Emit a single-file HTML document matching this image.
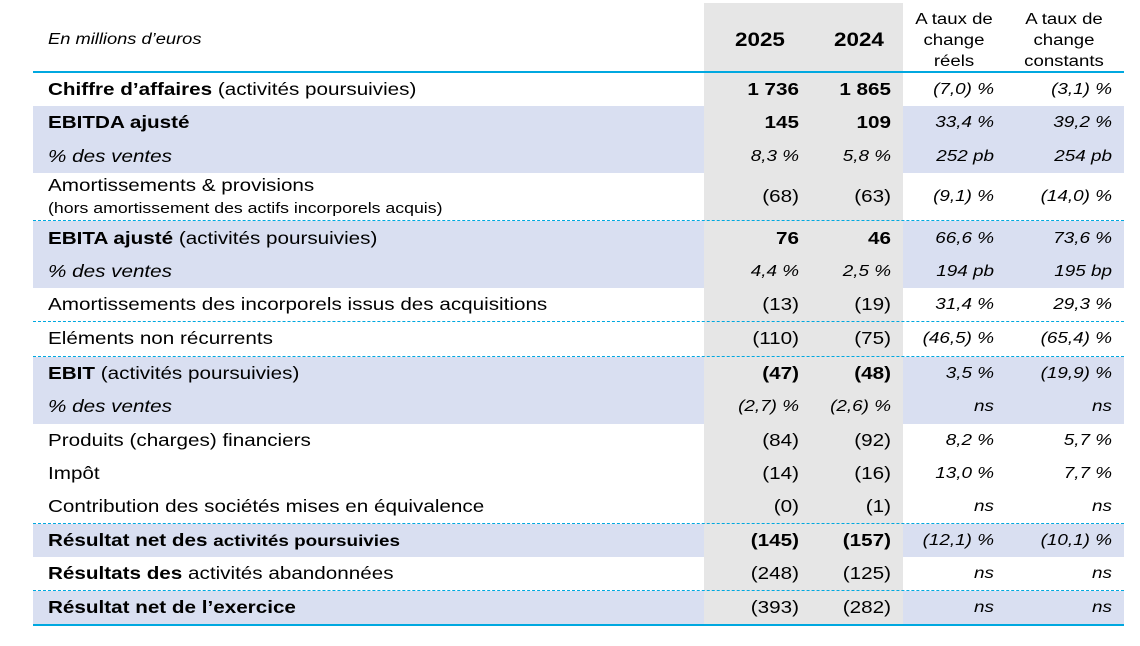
<!DOCTYPE html>
<html><head><meta charset="utf-8"><style>
body{margin:0;width:1140px;height:646px;background:#fff;position:relative;overflow:hidden;font-family:"Liberation Sans",Arial,sans-serif;color:#000}
.a{position:absolute}
.bl{position:absolute;left:33px;width:1091px;background:#d9dff1}
.gr{position:absolute;left:704px;width:199px;top:3px;height:621px;background:#e6e6e6}
.dot{position:absolute;left:33px;width:1091px;height:0;border-top:1px dashed #00a8e0}
.r{position:absolute;left:0;width:1140px;height:33px;line-height:33px;font-size:17.5px}
.r .l{position:absolute;left:48px;white-space:nowrap;transform:scaleX(1.18);transform-origin:left center}
.r .c1,.r .c2,.r .c3,.r .c4{position:absolute;text-align:right;width:120px;white-space:nowrap;transform:scaleX(1.18);transform-origin:right center}
.c1{left:679px}.c2{left:771px}.c3{left:874px}.c4{left:992px}
.i{font-style:italic;font-size:16px}
.b{font-weight:bold}
.sx{transform:scaleX(1.18);transform-origin:left center;white-space:nowrap}
.h{position:absolute;font-size:15.5px;text-align:center;width:110px;line-height:21px;transform:scaleX(1.2)}
</style></head><body>
<div class="bl" style="top:106px;height:67px"></div>
<div class="bl" style="top:221px;height:67px"></div>
<div class="bl" style="top:357px;height:67px"></div>
<div class="bl" style="top:524px;height:33px"></div>
<div class="bl" style="top:591px;height:33px"></div>
<div class="gr"></div>
<div class="a" style="left:33px;top:71px;width:1091px;height:2px;background:#00a8e0"></div>
<div class="a" style="left:33px;top:624px;width:1091px;height:2px;background:#00a8e0"></div>
<div class="dot" style="top:220px"></div>
<div class="dot" style="top:321px"></div>
<div class="dot" style="top:356px"></div>
<div class="dot" style="top:523px"></div>
<div class="dot" style="top:590px"></div>

<div class="a sx" style="left:48px;top:31px;font-size:15.5px;font-style:italic">En millions d’euros</div>
<div class="a b sx" style="left:735px;top:30px;font-size:19px">2025</div>
<div class="a b sx" style="left:834px;top:30px;font-size:19px">2024</div>
<div class="h" style="left:899px;top:9px">A taux de<br>change<br>réels</div>
<div class="h" style="left:1009px;top:9px">A taux de<br>change<br>constants</div>

<div class="r" style="top:73px"><span class="l"><b>Chiffre d’affaires</b> (activités poursuivies)</span><span class="c1 b">1 736</span><span class="c2 b">1 865</span><span class="c3 i">(7,0) %</span><span class="c4 i">(3,1) %</span></div>
<div class="r" style="top:106px"><span class="l b">EBITDA ajusté</span><span class="c1 b">145</span><span class="c2 b">109</span><span class="c3 i">33,4 %</span><span class="c4 i">39,2 %</span></div>
<div class="r" style="top:140px"><span class="l i" style="font-size:17.5px">% des ventes</span><span class="c1 i">8,3 %</span><span class="c2 i">5,8 %</span><span class="c3 i">252 pb</span><span class="c4 i">254 pb</span></div>
<div class="r" style="top:180px"><span class="c1">(68)</span><span class="c2">(63)</span><span class="c3 i">(9,1) %</span><span class="c4 i">(14,0) %</span></div>
<div class="a sx" style="left:48px;top:175px;font-size:17.5px">Amortissements &amp; provisions</div>
<div class="a sx" style="left:48px;top:200px;font-size:15px">(hors amortissement des actifs incorporels acquis)</div>
<div class="r" style="top:222px"><span class="l"><b>EBITA ajusté</b> (activités poursuivies)</span><span class="c1 b">76</span><span class="c2 b">46</span><span class="c3 i">66,6 %</span><span class="c4 i">73,6 %</span></div>
<div class="r" style="top:255px"><span class="l i" style="font-size:17.5px">% des ventes</span><span class="c1 i">4,4 %</span><span class="c2 i">2,5 %</span><span class="c3 i">194 pb</span><span class="c4 i">195 bp</span></div>
<div class="r" style="top:288px"><span class="l">Amortissements des incorporels issus des acquisitions</span><span class="c1">(13)</span><span class="c2">(19)</span><span class="c3 i">31,4 %</span><span class="c4 i">29,3 %</span></div>
<div class="r" style="top:322px"><span class="l">Eléments non récurrents</span><span class="c1">(110)</span><span class="c2">(75)</span><span class="c3 i">(46,5) %</span><span class="c4 i">(65,4) %</span></div>
<div class="r" style="top:357px"><span class="l"><b>EBIT</b> (activités poursuivies)</span><span class="c1 b">(47)</span><span class="c2 b">(48)</span><span class="c3 i">3,5 %</span><span class="c4 i">(19,9) %</span></div>
<div class="r" style="top:390px"><span class="l i" style="font-size:17.5px">% des ventes</span><span class="c1 i">(2,7) %</span><span class="c2 i">(2,6) %</span><span class="c3 i">ns</span><span class="c4 i">ns</span></div>
<div class="r" style="top:424px"><span class="l">Produits (charges) financiers</span><span class="c1">(84)</span><span class="c2">(92)</span><span class="c3 i">8,2 %</span><span class="c4 i">5,7 %</span></div>
<div class="r" style="top:457px"><span class="l">Impôt</span><span class="c1">(14)</span><span class="c2">(16)</span><span class="c3 i">13,0 %</span><span class="c4 i">7,7 %</span></div>
<div class="r" style="top:490px"><span class="l">Contribution des sociétés mises en équivalence</span><span class="c1">(0)</span><span class="c2">(1)</span><span class="c3 i">ns</span><span class="c4 i">ns</span></div>
<div class="r" style="top:524px"><span class="l"><b>Résultat net des</b> <b style="font-size:16px">activités poursuivies</b></span><span class="c1 b">(145)</span><span class="c2 b">(157)</span><span class="c3 i">(12,1) %</span><span class="c4 i">(10,1) %</span></div>
<div class="r" style="top:557px"><span class="l"><b>Résultats des</b> activités abandonnées</span><span class="c1">(248)</span><span class="c2">(125)</span><span class="c3 i">ns</span><span class="c4 i">ns</span></div>
<div class="r" style="top:591px"><span class="l b">Résultat net de l’exercice</span><span class="c1">(393)</span><span class="c2">(282)</span><span class="c3 i">ns</span><span class="c4 i">ns</span></div>
</body></html>
